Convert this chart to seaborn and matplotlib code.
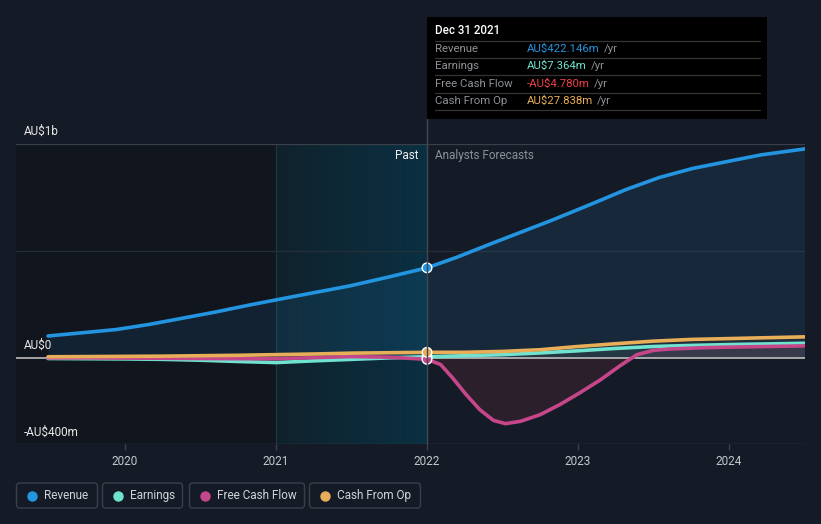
import numpy as np
import pandas as pd
import matplotlib
matplotlib.use("Agg")
import matplotlib.pyplot as plt
import seaborn as sns
from matplotlib.patches import FancyBboxPatch, Rectangle
from matplotlib.lines import Line2D
from matplotlib.transforms import IdentityTransform

# ---------------- data (AU$ millions, decimal years) ----------------
rev_years = [2019.49, 2019.7, 2019.94, 2020.16, 2020.38, 2020.6, 2020.82, 2021.07, 2021.28, 2021.49, 2021.75, 2022.0,
             2022.2, 2022.4, 2022.62, 2022.83, 2023.1, 2023.32, 2023.54, 2023.76, 2023.98, 2024.21, 2024.5]
rev_values = [104, 118, 134, 158, 187, 216, 248, 282, 310, 338, 380, 422.146,
              472, 528, 588, 645, 723, 788, 844, 886, 917, 949, 977]

earn_years = [2019.49, 2019.75, 2020.0, 2020.25, 2020.5, 2020.75, 2021.0, 2021.25, 2021.5, 2021.75, 2022.0,
              2022.25, 2022.5, 2022.75, 2023.0, 2023.25, 2023.5, 2023.75, 2024.0, 2024.25, 2024.5]
earn_values = [-1, -2, -3, -5, -9, -15, -20, -12, -5, 2, 7.364,
               12, 17, 25, 35, 46, 55, 60, 64, 67, 70]

fcf_years = [2019.49, 2019.75, 2020.0, 2020.25, 2020.5, 2020.75, 2021.0, 2021.25, 2021.5, 2021.75, 2022.0,
             2022.09, 2022.17, 2022.26, 2022.35, 2022.44, 2022.52, 2022.62, 2022.75, 2022.88, 2023.01,
             2023.15, 2023.28, 2023.39, 2023.5, 2023.6, 2023.81, 2024.0, 2024.25, 2024.5]
fcf_values = [2, 2, 1, 0, -1, -2, -2, 3, 8, 5, -4.780,
              -29, -92, -170, -240, -290, -305, -294, -263, -216, -162,
              -100, -34, 17, 37, 43, 49, 52, 55, 58]

cfo_years = [2019.49, 2019.75, 2020.0, 2020.25, 2020.5, 2020.75, 2021.0, 2021.25, 2021.5, 2021.75, 2022.0,
             2022.25, 2022.5, 2022.75, 2023.0, 2023.25, 2023.5, 2023.75, 2024.0, 2024.25, 2024.5]
cfo_values = [7, 8, 9, 10, 12, 14, 17, 20, 24, 26, 27.838,
              28, 32, 40, 55, 68, 80, 88, 92, 96, 100]

series_names = ["Revenue", "Earnings", "Free Cash Flow", "Cash From Op"]
series_colors = ["#2394df", "#6fe3cf", "#c6468a", "#e8ae58"]
tick_years = [2020, 2021, 2022, 2023, 2024]
tick_labels = ["2020", "2021", "2022", "2023", "2024"]
y_labels = ["AU$1b", "AU$0", "-AU$400m"]
tip_title = "Dec 31 2021"
tip_values = ["AU$422.146m", "AU$7.364m", "-AU$4.780m", "AU$27.838m"]
tip_colors = ["#2394df", "#6fe3cf", "#f0404a", "#e8ae58"]

# ---------------- styling ----------------
W, H = 821, 524
BG = "#151b26"
sns.set_theme(style="dark")
plt.rcParams["font.family"] = ["Roboto", "DejaVu Sans"]

fig = plt.figure(figsize=(W / 100, H / 100), dpi=100, facecolor=BG)
XMIN = 2020 + (16 - 125) / 151.0
XMAX = 2020 + (805 - 125) / 151.0
ax = fig.add_axes([16 / W, (H - 444) / H, (805 - 16) / W, 300 / H])
ax.set_facecolor(BG)
ax.set_xlim(XMIN, XMAX)
ax.set_ylim(-400, 1000)
for s in ax.spines.values():
    s.set_visible(False)
ax.grid(False)

# past (darker) region and last-year highlight band
ax.axvspan(XMIN, 2021, color="#11151d", zorder=0, lw=0)
grad = np.linspace(0, 1, 256)[None, :]
c0 = np.array([16, 34, 44]) / 255
c1 = np.array([10, 48, 66]) / 255
img = c0[None, None, :] * (1 - grad[..., None]) + c1[None, None, :] * grad[..., None]
ax.imshow(img, extent=[2021, 2022, -400, 1000], aspect="auto", zorder=0.5, interpolation="bilinear")
ax.axvline(2021, color="#1c3b48", lw=0.8, zorder=0.6)

# gridlines
ax.axhline(1000, color="#3a404a", lw=0.9, zorder=1)
ax.axhline(500, color="#262e39", lw=0.9, zorder=1)
ax.axhline(-400, color="#3d434c", lw=1.0, zorder=1)

# area fills
ry = np.array(rev_years); rv = np.array(rev_values)
ax.fill_between(ry, 0, rv, color="#2394df", alpha=0.11, lw=0, zorder=1.5)
fy = np.array(fcf_years); fv = np.array(fcf_values)
ax.fill_between(fy, 0, fv, where=fv < 0, color="#d0405e", alpha=0.12, lw=0, zorder=1.5, interpolate=True)
ax.fill_between(fy, 0, fv, where=fv > 0, color="#c6468a", alpha=0.12, lw=0, zorder=1.5, interpolate=True)
ax.fill_between(np.array(cfo_years), 0, np.array(cfo_values), color="#e8ae58", alpha=0.05, lw=0, zorder=1.5)
ax.fill_between(np.array(earn_years), 0, np.array(earn_values), color="#6fe3cf", alpha=0.05, lw=0, zorder=1.5)

ax.axhline(0, color="#bdbdbd", lw=1.2, zorder=2)

# lines
frames = []
for name, yrs, vals in zip(series_names,
                           [rev_years, earn_years, fcf_years, cfo_years],
                           [rev_values, earn_values, fcf_values, cfo_values]):
    frames.append(pd.DataFrame({"year": yrs, "value": vals, "series": name}))
df = pd.concat(frames, ignore_index=True)
sns.lineplot(data=df, x="year", y="value", hue="series", hue_order=series_names,
             palette=dict(zip(series_names, series_colors)), linewidth=2.6,
             errorbar=None, legend=False, ax=ax, zorder=3)
for ln in ax.get_lines():
    ln.set_solid_joinstyle("round")
    ln.set_solid_capstyle("round")

# markers at Dec 31 2021
mark = df[df["year"] == 2022.0]
sns.scatterplot(data=mark, x="year", y="value", hue="series", hue_order=series_names,
                palette=dict(zip(series_names, series_colors)), s=48, edgecolor="white",
                linewidth=1.0, legend=False, ax=ax, zorder=5, clip_on=False)

# ticks
ax.set_xticks(tick_years)
ax.set_xticklabels(tick_labels)
ax.set_yticks([])
ax.tick_params(axis="x", colors="#3d434c", length=4, width=1, labelcolor="#c4c7cc",
               labelsize=8.5, pad=4, bottom=True)
ax.set_xlabel("")
ax.set_ylabel("")

def fx(x):
    return x / W

def fy_(y):
    return 1 - y / H

# y labels
for lab, yy in zip(y_labels, [131, 345, 432]):
    fig.text(fx(24), fy_(yy), lab, color="#e8e8e8", fontsize=8.5, va="center", ha="left")

fig.text(fx(418), fy_(156), "Past", color="#f0f0f0", fontsize=8.5, va="center", ha="right")
fig.text(fx(435), fy_(156), "Analysts Forecasts", color="#8b9099", fontsize=8.5, va="center", ha="left")

# vertical cursor line
fig.add_artist(Line2D([427, 427], [H - 444, H - 119], color="#3f4956", lw=1.0,
                      transform=IdentityTransform(), zorder=1))

# tooltip
fig.add_artist(Rectangle((427, H - 119), 340, 102, transform=IdentityTransform(),
                         facecolor="#000000", edgecolor="none", zorder=6))
fig.text(fx(435), fy_(31), tip_title, color="#ffffff", fontsize=8.3, va="center", ha="left",
         weight="medium", zorder=7)
row_y = [49, 66, 84, 101]
for yline in [41, 58, 75, 93, 110]:
    fig.add_artist(Line2D([435, 760], [H - yline, H - yline], color="#343434", lw=0.9,
                          transform=IdentityTransform(), zorder=7))
for name, val, col, yy in zip(series_names, tip_values, tip_colors, row_y):
    fig.text(fx(435), fy_(yy), name, color="#8e9297", fontsize=8.2, va="center", ha="left", zorder=8)
    t = fig.text(fx(527), fy_(yy), val, color=col, fontsize=8.2, va="center", ha="left", zorder=8)
    fig.canvas.draw()
    bb = t.get_window_extent()
    fig.text((bb.x1 + 4) / W, fy_(yy), "/yr", color="#8e9297", fontsize=8.2, va="center",
             ha="left", zorder=8)

# legend boxes
boxes = [(16, 97), (102, 182), (189, 304), (309, 420)]
for (x0, x1), name, col in zip(boxes, series_names, series_colors):
    fig.add_artist(FancyBboxPatch((x0 + 0.5, H - 508), x1 - x0, 25,
                                  boxstyle="round,pad=0,rounding_size=3",
                                  transform=IdentityTransform(), facecolor="none",
                                  edgecolor="#3a404a", lw=1.0))
    fig.add_artist(Line2D([x0 + 16], [H - 495.5], marker="o", markersize=6.5, color=col,
                          transform=IdentityTransform(), lw=0))
    fig.text(fx(x0 + 28), fy_(495.5), name, color="#d0d3d8", fontsize=8.5, va="center", ha="left")

fig.savefig("out.png", dpi=100, facecolor=BG)
